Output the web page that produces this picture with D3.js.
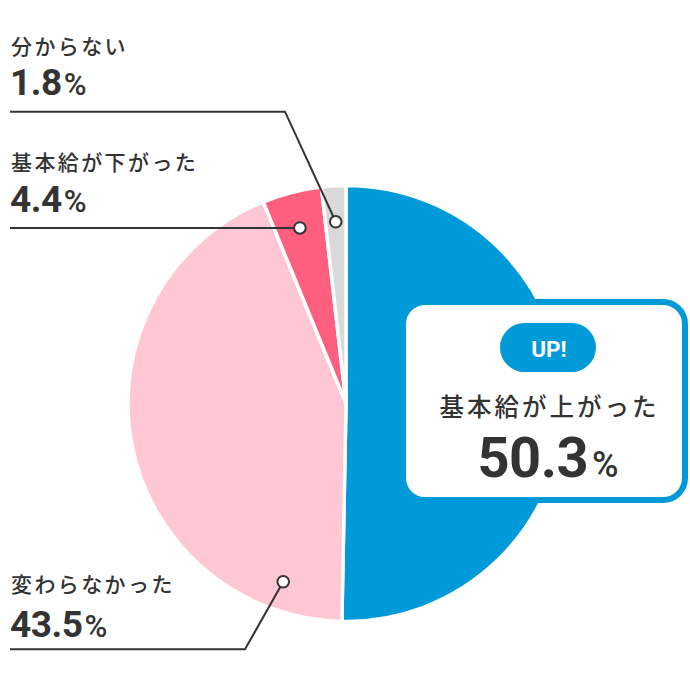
<!DOCTYPE html>
<html>
<head>
<meta charset="utf-8">
<script src="https://cdn.jsdelivr.net/npm/d3@7"></script>
<style>
  html, body { margin: 0; padding: 0; background: #fff; }
  svg { display: block; }
  .jp { font-family: "Noto Sans CJK JP", "Noto Sans", sans-serif; font-weight: 500; }
  .num { font-family: Roboto, "Noto Sans", sans-serif; font-weight: 700; }
</style>
</head>
<body>
<div id="chart"></div>
<script>
// data
const categories = ['基本給が上がった', '変わらなかった', '基本給が下がった', '分からない']
const values = [50.3, 43.5, 4.4, 1.8]
const valueLabels = ['50.3', '43.5', '4.4', '1.8']

// styles
const sliceColors = ['#009ad8', '#ffc6d3', '#ff5f7e', '#d9d9d9']
const textColor = '#333333'

const width = 690
const height = 690
const cx = 346
const cy = 403.5
const radius = 218

// callout layout for the three small slices (index into data)
const callouts = [
	{ i: 3, frac: 0.5, rho: 182, labelY: 45, numY: 95, lineY: 111.7, elbowX: 285 },
	{ i: 2, frac: 0.48, rho: 181.5, labelY: 161, numY: 211.5, lineY: null, elbowX: null },
	{ i: 1, frac: 0.117, rho: 189, labelY: 583, numY: 637, lineY: 649.3, elbowX: 245 },
]

const svg = d3.select('#chart')
	.append('svg')
	.attr('width', width)
	.attr('height', height)

const pie = d3.pie().sort(null).value(d => d)
const arcs = pie(values)
const arc = d3.arc().innerRadius(0).outerRadius(radius)

const pieG = svg.append('g').attr('transform', `translate(${cx},${cy})`)

pieG.selectAll('path.slice')
	.data(arcs)
	.join('path')
	.attr('class', 'slice')
	.attr('d', arc)
	.attr('fill', (d, i) => sliceColors[i])
	.attr('stroke', '#fff')
	.attr('stroke-width', 3.5)
	.attr('stroke-linejoin', 'round')

// anchor point inside a slice
const anchor = c => {
	const a = arcs[c.i]
	const ang = a.startAngle + c.frac * (a.endAngle - a.startAngle)
	return [cx + c.rho * Math.sin(ang), cy - c.rho * Math.cos(ang)]
}

const calloutG = svg.append('g')

callouts.forEach(c => {
	const [ax, ay] = anchor(c)
	const lineY = c.lineY == null ? ay : c.lineY
	const pts = c.elbowX == null
		? [[10, lineY], [ax, ay]]
		: [[10, lineY], [c.elbowX, lineY], [ax, ay]]

	calloutG.append('path')
		.attr('d', d3.line()(pts))
		.attr('fill', 'none')
		.attr('stroke', textColor)
		.attr('stroke-width', 2)

	calloutG.append('circle')
		.attr('cx', ax)
		.attr('cy', ay)
		.attr('r', 5.8)
		.attr('fill', '#fff')
		.attr('stroke', textColor)
		.attr('stroke-width', 2)

	calloutG.append('text')
		.attr('class', 'jp')
		.attr('x', 11)
		.attr('y', c.labelY)
		.attr('dominant-baseline', 'central')
		.attr('font-size', 21)
		.attr('letter-spacing', 2.4)
		.attr('fill', textColor)
		.text(categories[c.i])

	const num = calloutG.append('text')
		.attr('class', 'num')
		.attr('x', 10)
		.attr('y', c.numY)
		.attr('fill', textColor)
	num.append('tspan')
		.attr('font-size', 37)
		.attr('letter-spacing', -0.5)
		.text(valueLabels[c.i])
	num.append('tspan')
		.attr('dx', 2)
		.attr('font-size', 31)
		.attr('font-weight', 500)
		.text('%')
})

// highlight box for the largest slice
const box = { x: 403, y: 302, w: 282, h: 198, rx: 22 }
const midX = 548
const boxG = svg.append('g')

boxG.append('rect')
	.attr('x', box.x)
	.attr('y', box.y)
	.attr('width', box.w)
	.attr('height', box.h)
	.attr('rx', box.rx)
	.attr('fill', '#fff')
	.attr('stroke', sliceColors[0])
	.attr('stroke-width', 6)

boxG.append('rect')
	.attr('x', midX - 48)
	.attr('y', 323)
	.attr('width', 96)
	.attr('height', 49)
	.attr('rx', 24.5)
	.attr('fill', sliceColors[0])

boxG.append('text')
	.attr('class', 'num')
	.attr('x', midX + 1)
	.attr('y', 356.5)
	.attr('text-anchor', 'middle')
	.attr('font-size', 22.5)
	.attr('fill', '#fff')
	.text('UP!')

boxG.append('text')
	.attr('class', 'jp')
	.attr('x', midX + 1.5)
	.attr('y', 405.5)
	.attr('dominant-baseline', 'central')
	.attr('text-anchor', 'middle')
	.attr('font-size', 24.5)
	.attr('letter-spacing', 3)
	.attr('fill', textColor)
	.text(categories[0])

const big = boxG.append('text')
	.attr('class', 'num')
	.attr('x', midX)
	.attr('y', 476.5)
	.attr('text-anchor', 'middle')
	.attr('fill', textColor)
big.append('tspan')
	.attr('font-size', 56)
	.attr('letter-spacing', -0.5)
	.text(valueLabels[0])
big.append('tspan')
	.attr('dx', 4)
	.attr('font-size', 36)
	.attr('font-weight', 500)
	.text('%')
</script>
</body>
</html>
